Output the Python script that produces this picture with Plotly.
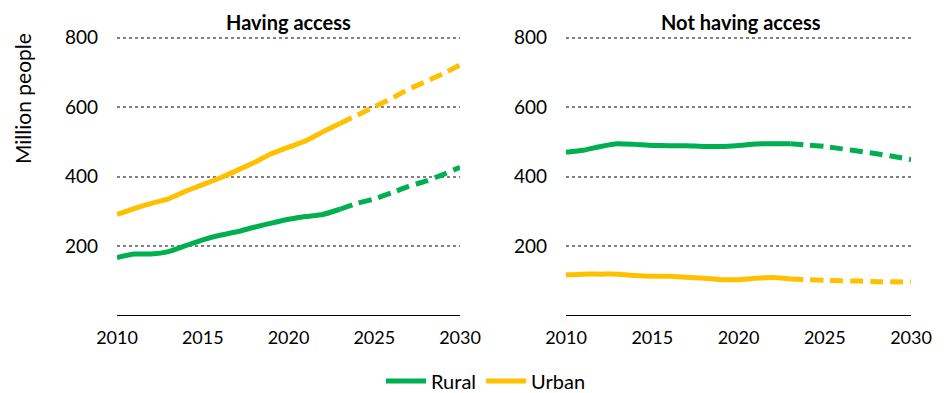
import plotly.graph_objects as go

years = list(range(2010, 2031))
proj_start = 2023

have_urban = [291, 308, 323, 336, 358, 377, 396, 418, 441, 466, 485, 503, 529, 553, 577, 601, 625, 652, 674, 696, 722]
have_rural = [167, 177, 177, 184, 201, 218, 231, 241, 254, 266, 277, 285, 291, 306, 323, 336, 353, 372, 387, 406, 427]
not_rural = [470, 476, 487, 495, 493, 490, 489, 489, 487, 487, 490, 494, 495, 495, 491, 487, 480, 473, 466, 458, 449]
not_urban = [117, 119, 119, 119, 115, 113, 113, 110, 107, 103, 103, 107, 109, 105, 103, 101, 100, 99, 97, 97, 96]

panel_titles = ["Having access", "Not having access"]
x_ticks = [2010, 2015, 2020, 2025, 2030]
y_ticks = [200, 400, 600, 800]

GREEN = "#00b050"
YELLOW = "#ffc000"
FONT = "Lato"

fig = go.Figure()


def add_series(vals, color, name, xa, ya, show):
    hist_x = [y for y in years if y <= proj_start]
    hist_y = [v for y, v in zip(years, vals) if y <= proj_start]
    proj_x = [y for y in years if y >= proj_start]
    proj_y = [v for y, v in zip(years, vals) if y >= proj_start]
    fig.add_trace(go.Scatter(x=hist_x, y=hist_y, mode="lines", name=name,
                             line=dict(color=color, width=5, shape="spline", smoothing=0.5),
                             xaxis=xa, yaxis=ya, showlegend=show, legendgroup=name))
    fig.add_trace(go.Scatter(x=proj_x, y=proj_y, mode="lines", name=name,
                             line=dict(color=color, width=5, dash="13px,7px", shape="spline", smoothing=0.5),
                             xaxis=xa, yaxis=ya, showlegend=False, legendgroup=name))


add_series(have_rural, GREEN, "Rural", "x", "y", True)
add_series(have_urban, YELLOW, "Urban", "x", "y", True)
add_series(not_rural, GREEN, "Rural", "x2", "y2", False)
add_series(not_urban, YELLOW, "Urban", "x2", "y2", False)

W, H = 950, 393
OFF = 8  # page body margin offset


def px_x(v):
    return (v - OFF) / W


def px_y(v):
    return 1 - (v - OFF) / H


Y_MAX = 812
y_top_px = 317 - Y_MAX * (317 - 38) / 800

dom1 = [px_x(117), px_x(460)]
dom2 = [px_x(566), px_x(911)]
ydom = [px_y(317), px_y(y_top_px)]

xcommon = dict(range=[2010, 2030], tickvals=x_ticks, showgrid=False, zeroline=False,
               showline=True, linecolor="black", linewidth=1, ticks="", automargin=False,
               ticklabelstandoff=6, tickfont=dict(family=FONT, size=18, color="black"))
ycommon = dict(range=[0, Y_MAX], tickvals=y_ticks, showgrid=True, gridcolor="#808080",
               gridwidth=2, griddash="dot", zeroline=False, showline=False, ticks="",
               automargin=False,
               ticklabelstandoff=18, tickfont=dict(family=FONT, size=19, color="black"))

fig.update_layout(
    width=W, height=H,
    margin=dict(l=0, r=0, t=0, b=0),
    paper_bgcolor="white", plot_bgcolor="white",
    xaxis=dict(domain=dom1, anchor="y", **xcommon),
    yaxis=dict(domain=ydom, anchor="x", **ycommon),
    xaxis2=dict(domain=dom2, anchor="y2", **xcommon),
    yaxis2=dict(domain=ydom, anchor="x2", **ycommon),
    showlegend=True,
    legend=dict(orientation="h", x=px_x(486), xanchor="center", y=px_y(383), yanchor="middle",
                font=dict(family=FONT, size=20, color="black"), itemwidth=40,
                tracegroupgap=0),
    annotations=[
        dict(text="<b>" + panel_titles[0] + "</b>", x=(dom1[0] + dom1[1]) / 2, y=px_y(8),
             xref="paper", yref="paper", showarrow=False, xanchor="center", yanchor="top",
             font=dict(family=FONT, size=20, color="black")),
        dict(text="<b>" + panel_titles[1] + "</b>", x=(dom2[0] + dom2[1]) / 2 + 0.003, y=px_y(8),
             xref="paper", yref="paper", showarrow=False, xanchor="center", yanchor="top",
             font=dict(family=FONT, size=20, color="black")),
        dict(text="Million people", x=px_x(8), y=px_y(99), xref="paper", yref="paper",
             showarrow=False, textangle=-90, xanchor="left", yanchor="middle",
             font=dict(family=FONT, size=21, color="black")),
    ],
)

fig.write_html("out.html")
